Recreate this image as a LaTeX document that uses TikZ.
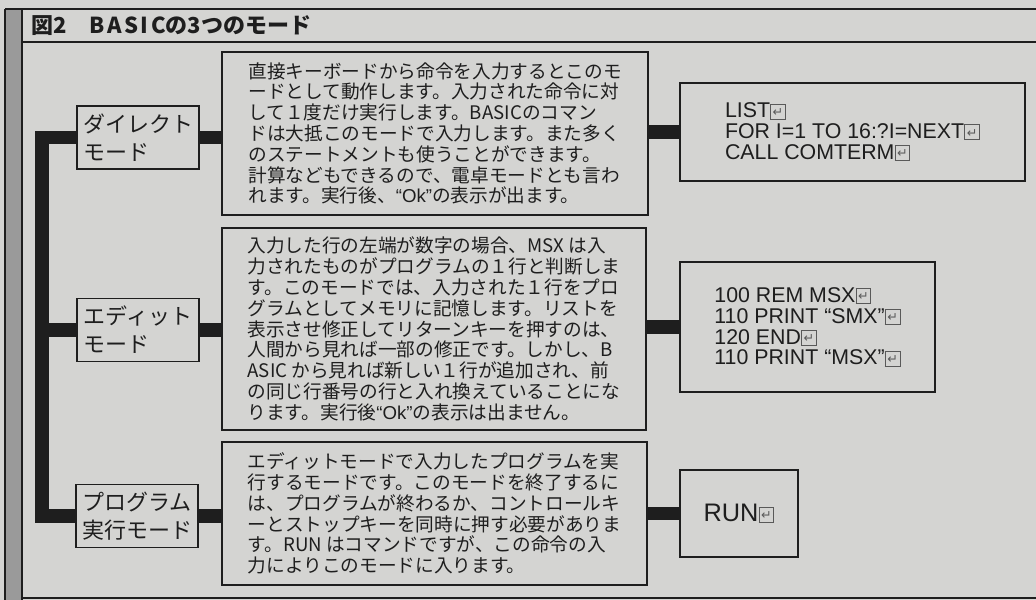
\documentclass[tikz,border=0pt]{standalone}
\usepackage{fontspec}
\setmainfont{Noto Sans CJK JP}
\newfontfamily\exfamily{Liberation Sans}
\newfontfamily\symfamily{DejaVu Sans}
\usetikzlibrary{positioning}

\definecolor{paper}{HTML}{D4D4D2}
\definecolor{strip}{HTML}{9A9A9A}
\definecolor{ink}{HTML}{1E1E1E}

\newcommand{\retkey}{{\color{gray!70!black}\setlength{\fboxsep}{0.5pt}\setlength{\fboxrule}{0.7pt}%
  \fbox{\rule{0pt}{9.5pt}\makebox[9.5pt]{\raisebox{1.2pt}{\symfamily\fontsize{9.5}{9.5}\selectfont ↵}}}}}
\newcommand{\okquote}{{\exfamily “Ok”}}

\begin{document}
\begin{tikzpicture}[x=0.75pt,y=-0.75pt,
  modebox/.style={draw=ink, line width=1.2pt, fill=paper, text=ink, align=left,
    font=\fontsize{16.5}{21}\selectfont, minimum width=91.5pt, minimum height=47.25pt, inner sep=2pt},
  descbox/.style={draw=ink, line width=1.2pt, fill=paper, text=ink, align=left,
    font=\fontsize{14}{15.6}\selectfont, inner sep=2pt},
  exbox/.style={draw=ink, line width=1.2pt, fill=paper, text=ink, align=left,
    font=\exfamily\fontsize{16}{15.6}\selectfont, inner sep=2pt},
  thickbar/.style={draw=ink, line width=10pt, line join=miter}]
\useasboundingbox (0,0) rectangle (1036,600);
\fill[paper] (0,0) rectangle (1036,600);
\fill[strip] (5,9) rectangle (22,600);
\draw[ink, line width=1pt] (5,9) -- (1036,9);
\draw[ink, line width=1pt] (22,42) -- (1036,42);
\draw[ink, line width=0.8pt] (5,9) -- (5,600);
\draw[ink, line width=1pt] (22,9) -- (22,600);
\draw[ink, line width=1pt] (22,598) -- (1036,598);

\node[anchor=west, text=ink, font=\bfseries\fontsize{16.5}{16.5}\selectfont] (title) at (27,26) {図2　{\addfontfeatures{LetterSpace=12}BASIC}の3つのモード};

\node[modebox] (direct) at (138,137.5) {ダイレクト\\モード};
\node[modebox] (edit) at (138,330) {エディット\\モード};
\node[modebox] (prog) at (137,516) {プログラム\\実行モード};

\node[descbox, minimum width=319.5pt, minimum height=122.25pt] (directtxt) at (435,133.5) {%
直接キーボードから命令を入力するとこのモ\\
ードとして動作します。入力された命令に対\\
して１度だけ実行します。BASICのコマン\\
ドは大抵このモードで入力します。また多く\\
のステートメントも使うことができます。\\
計算などもできるので、電卓モードとも言わ\\
れます。実行後、\okquote の表示が出ます。};
\node[descbox, minimum width=318pt, minimum height=151.5pt] (edittxt) at (434,329) {%
入力した行の左端が数字の場合、MSX は入\\
力されたものがプログラムの１行と判断しま\\
す。このモードでは、入力された１行をプロ\\
グラムとしてメモリに記憶します。リストを\\
表示させ修正してリターンキーを押すのは、\\
人間から見れば一部の修正です。しかし、B\\
ASIC から見れば新しい１行が追加され、前\\
の同じ行番号の行と入れ換えていることにな\\
ります。実行後\okquote の表示は出ません。};
\node[descbox, minimum width=318.75pt, minimum height=107.25pt] (progtxt) at (434.5,513.5) {%
エディットモードで入力したプログラムを実\\
行するモードです。このモードを終了するに\\
は、プログラムが終わるか、コントロールキ\\
ーとストップキーを同時に押す必要がありま\\
す。RUN はコマンドですが、この命令の入\\
力によりこのモードに入ります。};

\node[exbox, minimum width=258.75pt, minimum height=73.5pt] (directex) at (852.5,132) {%
LIST\retkey\\
FOR I=1 TO 16:?I=NEXT\retkey\\
CALL COMTERM\retkey};
\node[exbox, minimum width=191.25pt, minimum height=97.5pt] (editex) at (807.5,327) {%
100 REM MSX\retkey\\
110 PRINT “SMX”\retkey\\
120 END\retkey\\
110 PRINT “MSX”\retkey};
\node[exbox, font=\exfamily\fontsize{19}{19}\selectfont, minimum width=88.5pt, minimum height=65.25pt] (progex) at (739,513.5) {RUN\retkey};

\coordinate (trunk) at (42,0);
\draw[thickbar] (direct.west) -| (trunk |- prog.west) -- (prog.west);
\draw[thickbar] (edit.west) -- (edit.west -| trunk);

\draw[thickbar] (direct.east) -- (direct.east -| directtxt.west);
\draw[thickbar] (edit.east) -- (edit.east -| edittxt.west);
\draw[thickbar] (prog.east) -- (prog.east -| progtxt.west);

\draw[thickbar] (directex.west) -- (directex.west -| directtxt.east);
\draw[thickbar] (editex.west) -- (editex.west -| edittxt.east);
\draw[thickbar] (progex.west) -- (progex.west -| progtxt.east);
\end{tikzpicture}
\end{document}
